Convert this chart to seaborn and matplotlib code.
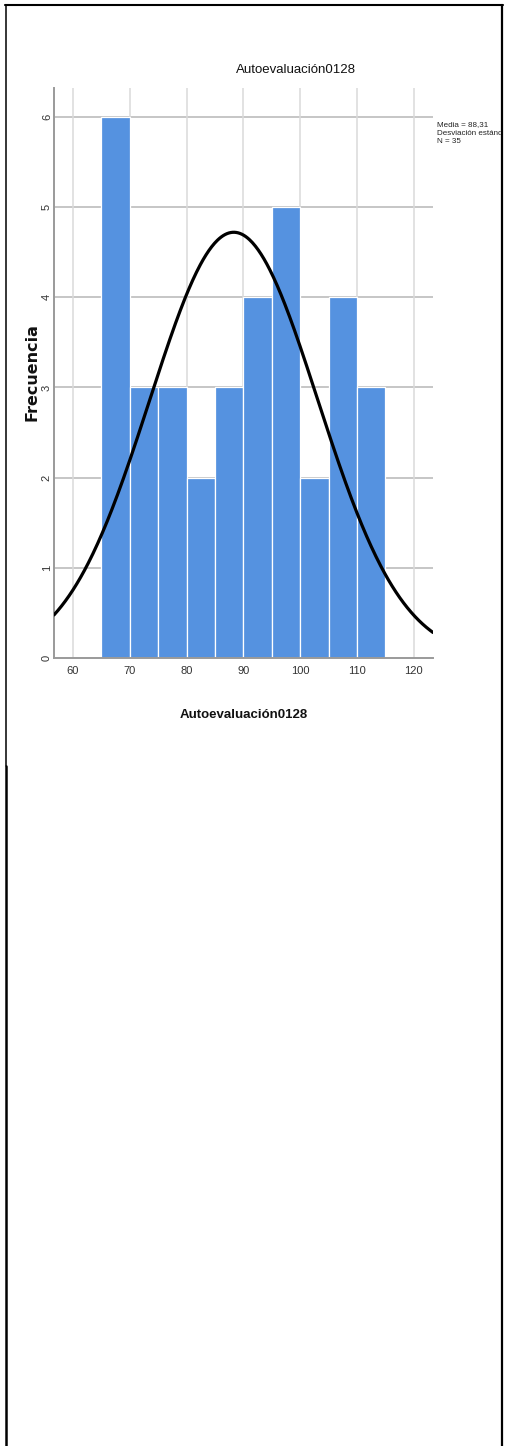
import numpy as np
import pandas as pd
import matplotlib
matplotlib.use("Agg")
import matplotlib.pyplot as plt
from matplotlib.lines import Line2D
from matplotlib.transforms import Bbox, TransformedBbox
import seaborn as sns

# Histogram data: bin edges (width 5) and frequency per bin
bin_edges = [65, 70, 75, 80, 85, 90, 95, 100, 105, 110, 115]
counts = [6, 3, 3, 2, 3, 4, 5, 2, 4, 3]
mean_value = 88.31
std_value = 14.79
n_value = 35
x_ticks = [60, 70, 80, 90, 100, 110, 120]
y_ticks = [0, 1, 2, 3, 4, 5, 6]
var_name = "Autoevaluación0128"
stats_lines = ["Media = 88,31", "Desviación estándar = 14,79", "N = 35"]

sns.set_style("white")
sans = ["Liberation Sans", "DejaVu Sans"]
plt.rcParams["font.family"] = sans

W, H = 509, 1446
fig = plt.figure(figsize=(W / 100, H / 100), dpi=100)

def fx(px):
    return px / W

def fy(py):
    return 1 - py / H

ax_l, ax_r, ax_t, ax_b = 54, 433, 88, 658
ax = fig.add_axes([fx(ax_l), fy(ax_b), fx(ax_r - ax_l), (ax_b - ax_t) / H])

df = pd.DataFrame({
    "mid": [(a + b) / 2 for a, b in zip(bin_edges[:-1], bin_edges[1:])],
    "freq": counts,
})

# grid lines behind the bars
ax.set_axisbelow(True)
for yv in y_ticks[1:]:
    ax.axhline(yv, color="#c6c6c6", lw=1.4, zorder=0)
for xv in x_ticks:
    ax.axvline(xv, color="#dadada", lw=1.1, zorder=0)

sns.histplot(data=df, x="mid", weights="freq", bins=bin_edges,
             color="#5592e0", edgecolor="white", linewidth=0.9,
             alpha=1.0, ax=ax, zorder=2)

xmin, xmax = 56.65, 123.4
ymax = 6.32
binw = bin_edges[1] - bin_edges[0]
xs = np.linspace(xmin, xmax, 400)
curve = n_value * binw / (std_value * np.sqrt(2 * np.pi)) * np.exp(-0.5 * ((xs - mean_value) / std_value) ** 2)
sns.lineplot(x=xs, y=curve, color="black", lw=2.3, ax=ax, zorder=3)

ax.set_xlim(xmin, xmax)
ax.set_ylim(0, ymax)
ax.set_xticks(x_ticks)
ax.set_yticks(y_ticks)
ax.set_xticklabels([str(v) for v in x_ticks], fontsize=8, color="#333333")
ax.set_yticklabels([str(v) for v in y_ticks], fontsize=8, color="#333333",
                   rotation=90, va="center")
ax.tick_params(axis="both", length=0)
ax.tick_params(axis="x", pad=6)
ax.tick_params(axis="y", pad=1.5)

for side in ("top", "right"):
    ax.spines[side].set_visible(False)
for side in ("left", "bottom"):
    ax.spines[side].set_color("#9a9a9a")
    ax.spines[side].set_linewidth(1.4)

ax.set_xlabel("")
ax.set_ylabel("")

# titles and axis labels
fig.text(fx(296), fy(70), var_name, ha="center", va="center",
         fontsize=9.5, family=sans, color="#111111")
fig.text(fx(244), fy(715), var_name, ha="center", va="center",
         fontsize=9.5, family=sans, fontweight="bold", color="#111111")
fig.text(fx(32), fy(372), "Frecuencia", ha="center", va="center",
         rotation=90, fontsize=11.5, family=["DejaVu Sans"],
         fontweight="bold", color="#111111")

# summary statistics next to the plot, cut off by the frame
stats = fig.text(fx(437), fy(121), "\n".join(stats_lines), ha="left", va="top",
                 fontsize=5.8, family=sans, color="#222222", linespacing=1.3)
stats.set_clip_box(TransformedBbox(Bbox.from_extents(0, 0, fx(501), 1), fig.transFigure))
stats.set_clip_on(True)

# surrounding frame
frame = [
    ((5, 503), (5, 5), 1.5),
    ((5.5, 5.5), (5, 766), 1.1),
    ((6.2, 6.2), (766, H), 1.8),
    ((501.5, 501.5), (5, H), 1.6),
]
for xsp, ysp, lw in frame:
    fig.add_artist(Line2D([fx(v) for v in xsp], [fy(v) for v in ysp],
                          color="black", lw=lw, transform=fig.transFigure))

fig.savefig("out.png", dpi=100)
